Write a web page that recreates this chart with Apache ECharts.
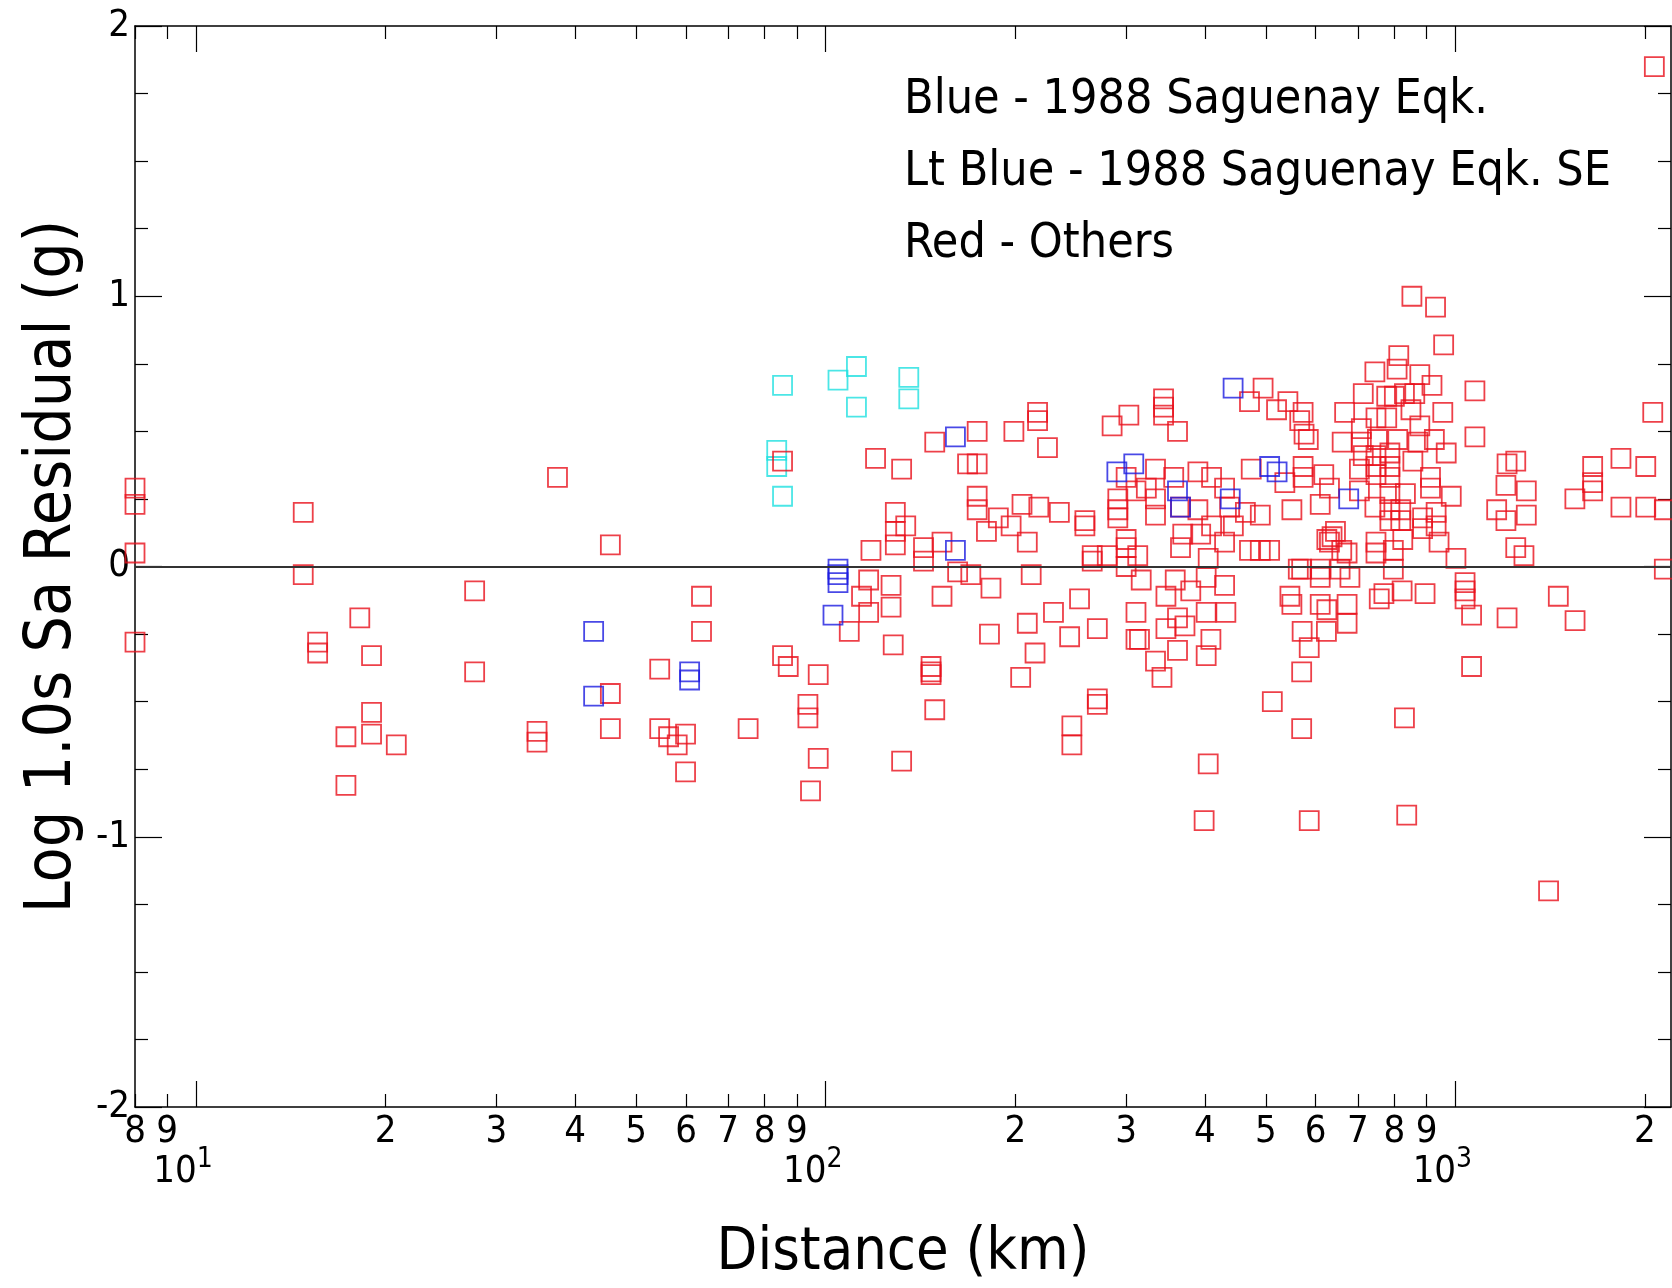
<!DOCTYPE html>
<html>
<head>
<meta charset="utf-8">
<title>Log 1.0s Sa Residual vs Distance</title>
<script src="https://cdn.jsdelivr.net/npm/echarts@6/dist/echarts.min.js"></script>
<style>
  html, body { margin: 0; padding: 0; background: #fff; }
  #chart { width: 1672px; height: 1288px; }
</style>
</head>
<body>
<div id="chart"></div>
<script>
// Residual of log 1.0 s spectral acceleration vs. hypocentral distance.
const FONT = "'Liberation Sans Narrow', 'DejaVu Sans Condensed', 'Liberation Sans', sans-serif";
const RED = '#e8101c';
const BLUE = '#1c1ce0';
const CYAN = '#1ee0e0';

const X_MIN = 8;
const X_MAX = 2200;
const majorTicks = [10, 100, 1000];
const minorTicks = [8, 9, 20, 30, 40, 50, 60, 70, 80, 90,
  200, 300, 400, 500, 600, 700, 800, 900, 2000];

const legendLines = [
  'Blue - 1988 Saguenay Eqk.',
  'Lt Blue - 1988 Saguenay Eqk. SE',
  'Red - Others',
];

// [distance (km), log residual]
const saguenay = [
  [42.8, -0.24], [42.8, -0.48], [60.8, -0.39], [60.8, -0.42], [102.7, -0.18],
  [104.6, -0.01], [104.6, -0.03], [104.6, -0.06], [160.7, 0.48], [160.7, 0.06],
  [290, 0.35], [308.5, 0.38], [362, 0.28], [366, 0.22], [439, 0.25], [443.6, 0.66],
  [507, 0.37], [521, 0.35], [677, 0.25],
];

const saguenaySE = [
  [83.6, 0.43], [83.6, 0.37], [85.4, 0.67], [85.4, 0.26], [104.6, 0.69],
  [111.9, 0.74], [111.9, 0.59], [135.5, 0.70], [135.5, 0.62],
];

const others = [
  [8, 0.29], [8, 0.23], [8, 0.05], [8, -0.28],
  [14.8, 0.20], [14.8, -0.03], [15.6, -0.28], [15.6, -0.32],
  [17.3, -0.63], [17.3, -0.81], [18.2, -0.19],
  [19.0, -0.33], [19.0, -0.54], [19.0, -0.62], [20.8, -0.66],
  [27.7, -0.09], [27.7, -0.39], [34.8, -0.61], [34.8, -0.65], [37.5, 0.33],
  [45.5, 0.08], [45.5, -0.47], [45.5, -0.60],
  [54.5, -0.38], [54.5, -0.60], [56.3, -0.63], [58.1, -0.66],
  [59.9, -0.62], [59.9, -0.76], [63.5, -0.11], [63.5, -0.24], [75.3, -0.60],
  [85.4, 0.39], [85.4, -0.33], [87.2, -0.37],
  [93.7, -0.51], [93.7, -0.56], [94.6, -0.83], [97.3, -0.40], [97.3, -0.71],
  [109, -0.24], [114, -0.11], [117, -0.05], [117, -0.17], [118, 0.06], [120, 0.40],
  [127, -0.07], [127, -0.15], [128, -0.29], [129, 0.20], [129, 0.13], [129, 0.08],
  [132, 0.36], [132, -0.72], [134, 0.15], [143, 0.07], [143, 0.02],
  [147, -0.37], [147, -0.39], [147, -0.40], [149, 0.46], [149, -0.53],
  [153, 0.09], [153, -0.11], [162, -0.02], [168, 0.38], [170, -0.03],
  [174, 0.50], [174, 0.38], [174, 0.26], [174, 0.21], [180, 0.13], [182, -0.25], [183, -0.08],
  [188, 0.18], [197, 0.15], [199, 0.50], [204, -0.41], [205, 0.23], [209, 0.09], [209, -0.21],
  [212, -0.03], [215, -0.32], [217, 0.57], [217, 0.54], [218, 0.22], [225, 0.44], [230, -0.17],
  [235, 0.20], [244, -0.26], [246, -0.59], [246, -0.66], [253, -0.12],
  [258, 0.17], [258, 0.15], [265, 0.04], [265, 0.02],
  [270, -0.23], [270, -0.49], [270, -0.51],
  [280, 0.04], [285, 0.52], [291, 0.25], [291, 0.21], [291, 0.18],
  [300, 0.33], [300, 0.10], [300, 0.07], [300, 0.00], [303, 0.56],
  [311, 0.28], [311, -0.17], [311, -0.27], [313, 0.04], [315, -0.27], [317, -0.05],
  [323, 0.29], [334, 0.36], [334, 0.25], [334, 0.19], [334, -0.35], [342, -0.41],
  [344, 0.62], [344, 0.59], [344, 0.56], [347, -0.11], [347, -0.23],
  [357, 0.33], [359, -0.05], [362, 0.50], [362, -0.19], [362, -0.31],
  [366, 0.22], [366, 0.07], [369, 0.12], [372, -0.22], [380, -0.09],
  [390, 0.35], [390, 0.21], [394, 0.12], [399, -0.94],
  [402, -0.04], [402, -0.17], [402, -0.33], [405, 0.03], [405, -0.73], [409, -0.27],
  [410, 0.33], [410, 0.15], [430, 0.29], [430, 0.09], [430, -0.07], [432, -0.17],
  [438, 0.22], [444, 0.15], [464, 0.20], [471, 0.61], [471, 0.06], [474, 0.36],
  [490, 0.19], [490, 0.06], [495, 0.66], [507, 0.06], [512, -0.50],
  [520, 0.58], [536, 0.31], [542, 0.61], [546, -0.11], [550, 0.21], [550, -0.14],
  [563, -0.01], [566, 0.54], [570, -0.01], [570, -0.39], [570, -0.60], [571, -0.24],
  [573, 0.57], [573, 0.37], [573, 0.33], [575, 0.49], [584, 0.47], [586, -0.30], [586, -0.94],
  [610, 0.23], [610, -0.01], [610, -0.04], [610, -0.14], [618, 0.34], [624, -0.24],
  [625, 0.10], [625, -0.16], [631, 0.29], [631, 0.09], [637, 0.11], [645, 0.13],
  [656, -0.01], [660, 0.06], [661, 0.46], [667, 0.57], [673, 0.05], [673, -0.14], [673, -0.21],
  [680, -0.04], [704, 0.36], [704, 0.28], [709, 0.51], [709, 0.46], [714, 0.64], [714, 0.41],
  [745, 0.72], [745, 0.22], [748, 0.55], [748, 0.41], [748, 0.37], [748, 0.34], [748, 0.09], [748, 0.05],
  [752, 0.47], [757, -0.12], [770, -0.10],
  [778, 0.63], [778, 0.55], [787, 0.42], [787, 0.37], [787, 0.33], [787, 0.27], [787, 0.21], [787, 0.17],
  [797, 0.06], [797, -0.01], [800, 0.63],
  [808, 0.73], [810, 0.47], [813, 0.78], [819, 0.21], [819, 0.17], [823, -0.09], [825, 0.10],
  [830, 0.64], [830, -0.56], [833, 0.27], [837, -0.92], [850, 0.58], [853, 1.00], [856, 0.39],
  [862, 0.64], [872, 0.46], [878, 0.71], [878, 0.52], [887, 0.18], [887, 0.14], [895, -0.10],
  [913, 0.33], [913, 0.29], [918, 0.67], [926, 0.47], [930, 0.96], [932, 0.20], [932, 0.15],
  [942, 0.09], [955, 0.57], [958, 0.82], [967, 0.42], [985, 0.26], [1002, 0.03],
  [1036, -0.06], [1036, -0.09], [1036, -0.12], [1061, -0.18], [1061, -0.37],
  [1074, 0.65], [1074, 0.48], [1163, 0.21], [1203, 0.30], [1203, 0.17], [1208, 0.38], [1208, -0.19],
  [1247, 0.39], [1247, 0.07], [1285, 0.04], [1296, 0.28], [1296, 0.19], [1406, -1.20], [1457, -0.11],
  [1548, 0.25], [1549, -0.20], [1652, 0.37], [1652, 0.31], [1652, 0.28],
  [1832, 0.40], [1832, 0.22], [2006, 0.37], [2006, 0.22], [2058, 0.57], [2070, 1.85],
  [2147, 0.21], [2147, -0.01],
];

const AXIS_LINE = { color: '#000', width: 1.5 };
const TICK_LINE = { color: '#000', width: 1.2 };

// leading digit of a tick value: 8, 9, 2, 3 ... (20 -> 2, 300 -> 3)
function leadDigit(v) {
  return String(Math.round(v / Math.pow(10, Math.floor(Math.log10(v) + 1e-9))));
}

function distAxis(position, ticks, tickLen, withLine, label, extra) {
  return Object.assign({
    type: 'log',
    logBase: 10,
    min: X_MIN,
    max: X_MAX,
    position,
    gridIndex: 0,
    axisLine: { show: withLine, onZero: false, lineStyle: AXIS_LINE },
    axisTick: { show: true, inside: true, length: tickLen, customValues: ticks, lineStyle: TICK_LINE },
    minorTick: { show: false },
    axisLabel: label || { show: false },
    splitLine: { show: false },
  }, extra || {});
}

function residAxis(position, withLabels) {
  return {
    type: 'value',
    min: -2,
    max: 2,
    interval: 1,
    position,
    axisLine: { show: true, onZero: false, lineStyle: AXIS_LINE },
    axisTick: { show: true, inside: true, length: 27, lineStyle: TICK_LINE },
    minorTick: { show: true, splitNumber: 4, length: 13, lineStyle: TICK_LINE },
    axisLabel: withLabels
      ? { show: true, fontSize: 38, margin: 5, color: '#000', fontFamily: FONT, showMinLabel: true, showMaxLabel: true }
      : { show: false },
    splitLine: { show: false },
  };
}

function squares(name, data, color) {
  return {
    name,
    type: 'scatter',
    data,
    symbol: 'rect',
    symbolSize: 19,
    clip: false,
    itemStyle: { color: 'rgba(0,0,0,0)', borderColor: color, borderWidth: 1.8 },
    emphasis: { disabled: true },
  };
}

const yLeft = residAxis('left', true);
yLeft.name = 'Log 1.0s Sa Residual (g)';
yLeft.nameLocation = 'middle';
yLeft.nameRotate = 90;
yLeft.nameGap = 34;
yLeft.nameTextStyle = { fontSize: 64, color: '#000', fontFamily: FONT };

const redSeries = squares('Others', others, RED);
redSeries.markLine = {
  silent: true,
  symbol: 'none',
  label: { show: false },
  lineStyle: { color: '#333', width: 2, type: 'solid' },
  data: [{ yAxis: 0 }],
};

const option = {
  animation: false,
  backgroundColor: '#fff',
  textStyle: { fontFamily: FONT, color: '#000' },
  grid: { left: 135, right: 1, top: 26, bottom: 181, containLabel: false, outerBoundsMode: 'none' },
  xAxis: [
    distAxis('bottom', majorTicks, 26, true, {
      show: true,
      customValues: majorTicks,
      margin: 40,
      formatter: (v) => '{b|10}{s|' + Math.round(Math.log10(v)) + '}{p|}',
      rich: {
        b: { fontSize: 38, lineHeight: 38, verticalAlign: 'middle', padding: [13, 0, 0, 0], color: '#000', fontFamily: FONT },
        s: { fontSize: 28, lineHeight: 28, verticalAlign: 'middle', padding: [0, 0, 13, 0], color: '#000', fontFamily: FONT },
        p: { width: 26 },
      },
    }, {
      name: 'Distance (km)',
      nameLocation: 'middle',
      nameGap: 117,
      nameTextStyle: { fontSize: 59, color: '#000', fontFamily: FONT },
    }),
    distAxis('bottom', minorTicks, 13, false, {
      show: true,
      customValues: minorTicks,
      margin: 6,
      fontSize: 38,
      color: '#000',
      fontFamily: FONT,
      formatter: leadDigit,
    }),
    distAxis('top', majorTicks, 26, true),
    distAxis('top', minorTicks, 13, false),
  ],
  yAxis: [yLeft, residAxis('right', false)],
  graphic: legendLines.map((t, i) => ({
    type: 'text',
    x: 904,
    y: 101 + i * 72,
    silent: true,
    style: { text: t, font: '48px ' + FONT, fill: '#000', verticalAlign: 'middle', align: 'left' },
  })),
  series: [
    squares('1988 Saguenay Eqk. SE', saguenaySE, CYAN),
    redSeries,
    squares('1988 Saguenay Eqk.', saguenay, BLUE),
  ],
};

const chart = echarts.init(document.getElementById('chart'), null, { renderer: 'canvas' });
chart.setOption(option);
</script>
</body>
</html>
